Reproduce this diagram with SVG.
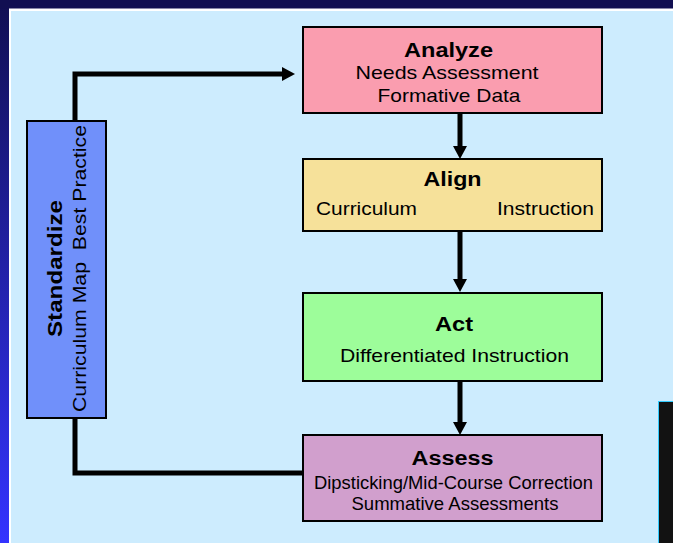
<svg xmlns="http://www.w3.org/2000/svg" width="673" height="543" viewBox="0 0 673 543">
<defs>
<linearGradient id="bg" x1="0" y1="0" x2="0" y2="1">
<stop offset="0" stop-color="#110f52"/>
<stop offset="1" stop-color="#3434ff"/>
</linearGradient>
<marker id="ah" markerUnits="userSpaceOnUse" markerWidth="14" markerHeight="14" refX="0" refY="7" orient="auto">
<path d="M0,0 L13,7 L0,14 z" fill="#000"/>
</marker>
<style>
.box{stroke:#000;stroke-width:2}
.t{font-family:"Liberation Sans",Arial,sans-serif;font-weight:bold;font-size:20px;fill:#000;text-anchor:middle}
.s{font-family:"Liberation Sans",Arial,sans-serif;font-size:19px;fill:#000;text-anchor:middle}
.c{fill:none;stroke:#000;stroke-width:5}
</style>
</defs>
<rect x="0" y="0" width="673" height="543" fill="url(#bg)"/>
<rect x="0" y="0" width="673" height="8.5" fill="#110f52"/>
<rect x="9" y="8.5" width="664" height="535" fill="#ffffff"/>
<rect x="11" y="11" width="662" height="532" fill="#cdecfe"/>
<rect x="658.5" y="401.5" width="20" height="150" fill="#121212" stroke="#33ccff" stroke-width="1"/>
<g id="connectors">
<path class="c" d="M75,121 V74 H282" marker-end="url(#ah)"/>
<path class="c" d="M303,473 H75 V418"/>
<path class="c" d="M460,113 V146" marker-end="url(#ah)"/>
<path class="c" d="M460,231 V279" marker-end="url(#ah)"/>
<path class="c" d="M460,381 V422" marker-end="url(#ah)"/>
</g>
<g id="analyze">
<rect class="box" x="303" y="27" width="299" height="86" fill="#fa9daf"/>
<text class="t" x="448.5" y="57" textLength="89" lengthAdjust="spacingAndGlyphs">Analyze</text>
<text class="s" x="447" y="79" textLength="183" lengthAdjust="spacingAndGlyphs">Needs Assessment</text>
<text class="s" x="449" y="101.5" textLength="143" lengthAdjust="spacingAndGlyphs">Formative Data</text>
</g>
<g id="align">
<rect class="box" x="303" y="159" width="299" height="72" fill="#f6e19a"/>
<text class="t" x="452.5" y="185.5" textLength="58" lengthAdjust="spacingAndGlyphs">Align</text>
<text class="s" x="366.5" y="215" textLength="101" lengthAdjust="spacingAndGlyphs">Curriculum</text>
<text class="s" x="545.5" y="215" textLength="97" lengthAdjust="spacingAndGlyphs">Instruction</text>
</g>
<g id="act">
<rect class="box" x="303" y="293" width="299" height="88" fill="#9dfd9a"/>
<text class="t" x="454" y="330.5" textLength="38" lengthAdjust="spacingAndGlyphs">Act</text>
<text class="s" x="454.5" y="361.5" textLength="229" lengthAdjust="spacingAndGlyphs">Differentiated Instruction</text>
</g>
<g id="assess">
<rect class="box" x="303" y="435" width="299" height="86" fill="#d19fcd"/>
<text class="t" x="452.5" y="465" textLength="82" lengthAdjust="spacingAndGlyphs">Assess</text>
<text class="s" x="453.5" y="488.5" textLength="279" lengthAdjust="spacingAndGlyphs">Dipsticking/Mid-Course Correction</text>
<text class="s" x="455" y="510" textLength="207" lengthAdjust="spacingAndGlyphs">Summative Assessments</text>
</g>
<g id="standardize">
<rect class="box" x="27" y="121" width="79" height="297" fill="#7090fa"/>
<text class="t" transform="translate(61.5,268.5) rotate(-90)" x="0" y="0" textLength="137" lengthAdjust="spacingAndGlyphs">Standardize</text>
<text class="s" transform="translate(85.5,268.5) rotate(-90)" x="0" y="0" textLength="287" lengthAdjust="spacingAndGlyphs" xml:space="preserve">Curriculum Map  Best Practice</text>
</g>
</svg>
